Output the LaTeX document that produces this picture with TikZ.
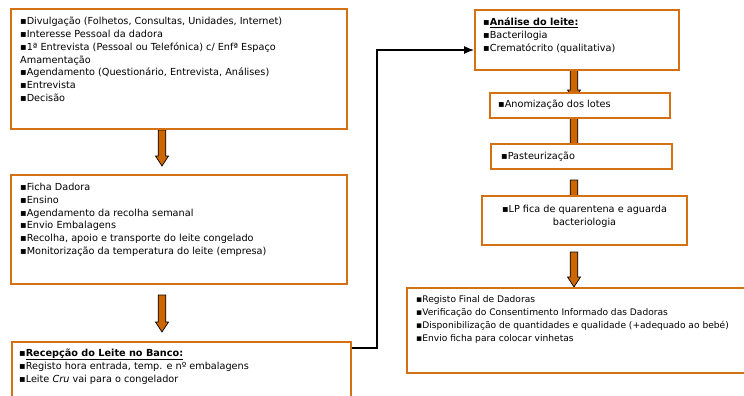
\documentclass[tikz,border=0pt]{standalone}
\usepackage{fontspec}
\setmainfont{DejaVu Sans}
\usetikzlibrary{arrows.meta,calc,backgrounds}

\definecolor{boxorange}{RGB}{214,112,20}
\definecolor{arroworange}{RGB}{204,102,0}

\tikzset{
  stepbox/.style={draw=boxorange,line width=2pt,fill=white,rectangle,inner sep=0pt,anchor=north west},
  steptext/.style={anchor=north west,align=left,inner sep=0pt,
    font=\fontsize{9.7}{12.9}\selectfont,execute at begin node=\strut},
  % fat orange arrow, drawn as a closed outline between two points
  blockarrow/.style={draw=black,line width=0.7pt,fill=arroworange,line join=miter,
    to path={($(\tikztostart)+(-3.8,0)$) -- ($(\tikztotarget)+(-3.8,-10)$)
      -- ($(\tikztotarget)+(-6.5,-10)$) -- (\tikztotarget)
      -- ($(\tikztotarget)+(6.5,-10)$) -- ($(\tikztotarget)+(3.8,-10)$)
      -- ($(\tikztostart)+(3.8,0)$) -- cycle}},
  link/.style={draw=black,line width=1.1pt,-{Latex[length=10pt,width=8pt]}}
}

\begin{document}
\begin{tikzpicture}[x=1pt,y=-1pt]
  \clip (0,0) rectangle (744,396);

  % left column
  \node[stepbox,minimum width=336pt,minimum height=120pt] (divulg) at (10,8) {};
  \node[steptext] (divulg-txt) at ([shift={(10,8.6)}]divulg.north west)
    {▪Divulgação (Folhetos, Consultas, Unidades, Internet)\\
     ▪Interesse Pessoal da dadora\\
     ▪1ª Entrevista (Pessoal ou Telefónica) c/ Enfª Espaço\\
     Amamentação\\
     ▪Agendamento (Questionário, Entrevista, Análises)\\
     ▪Entrevista\\
     ▪Decisão};

  \node[stepbox,minimum width=336pt,minimum height=109pt] (ficha) at (10,174) {};
  \node[steptext] (ficha-txt) at ([shift={(10,8.7)}]ficha.north west)
    {▪Ficha Dadora\\
     ▪Ensino\\
     ▪Agendamento da recolha semanal\\
     ▪Envio Embalagens\\
     ▪Recolha, apoio e transporte do leite congelado\\
     ▪Monitorização da temperatura do leite (empresa)};

  \node[stepbox,minimum width=339pt,minimum height=70pt] (recep) at (11,341) {};
  \node[steptext] (recep-txt) at ([shift={(8,7.5)}]recep.north west)
    {▪\underline{\textbf{Recepção do Leite no Banco:}}\\
     ▪Registo hora entrada, temp. e nº embalagens\\
     ▪Leite \textit{Cru} vai para o congelador};

  % right column
  \node[stepbox,minimum width=204pt,minimum height=60pt] (analise) at (474,9) {};
  \node[steptext] (analise-txt) at ([shift={(9,8.3)}]analise.north west)
    {▪\underline{\textbf{Análise do leite:}}\\
     ▪Bacterilogia\\
     ▪Crematócrito (qualitativa)};

  \node[stepbox,minimum width=180pt,minimum height=25pt] (anonim) at (489,92) {};
  \node[steptext] (anonim-txt) at ([shift={(9,5.8)}]anonim.north west)
    {▪Anomização dos lotes};

  \node[stepbox,minimum width=181pt,minimum height=25pt] (pasteur) at (490,143) {};
  \node[steptext] (pasteur-txt) at ([shift={(11,6.8)}]pasteur.north west)
    {▪Pasteurização};

  \node[stepbox,minimum width=205pt,minimum height=49pt] (quarent) at (481,195) {};
  \node[steptext,anchor=north,align=center] (quarent-txt) at ([yshift=-9.8pt]quarent.north)
    {▪LP fica de quarentena e aguarda\\bacteriologia};

  \node[stepbox,minimum width=360pt,minimum height=85pt] (registo) at (406,287) {};
  \node[steptext,font=\fontsize{9.1}{12.9}\selectfont] (registo-txt)
    at ([shift={(10,8.3)}]registo.north west)
    {▪Registo Final de Dadoras\\
     ▪Verificação do Consentimento Informado das Dadoras\\
     ▪Disponibilização de quantidades e qualidade (+adequado ao bebé)\\
     ▪Envio ficha para colocar vinhetas};

  % arrow ends
  \coordinate (a1s) at (162,130);
  \coordinate (a1t) at (162,166);
  \coordinate (a2s) at (162,295);
  \coordinate (a2t) at (162,332);
  \coordinate (a3s) at (574,70);
  \coordinate (a3t) at (574,100);
  \coordinate (a4s) at (574,118);
  \coordinate (a4t) at (574,156);
  \coordinate (a5s) at (574,180);
  \coordinate (a5t) at (574,210);
  \coordinate (a6s) at (574,252);
  \coordinate (a6t) at (574,287);

  \begin{pgfonlayer}{background}
    \draw[blockarrow] (a1s) to (a1t);
    \draw[blockarrow] (a2s) to (a2t);
    \draw[blockarrow] (a3s) to (a3t);
    \draw[blockarrow] (a4s) to (a4t);
    \draw[blockarrow] (a5s) to (a5t);
    \draw[blockarrow] (a6s) to (a6t);
  \end{pgfonlayer}

  % reception goes back up to the analysis
  \coordinate (turn) at (377,348);
  \draw[link] (recep.east |- turn) -- (turn) |- ([yshift=-10pt]analise.west);
\end{tikzpicture}
\end{document}
